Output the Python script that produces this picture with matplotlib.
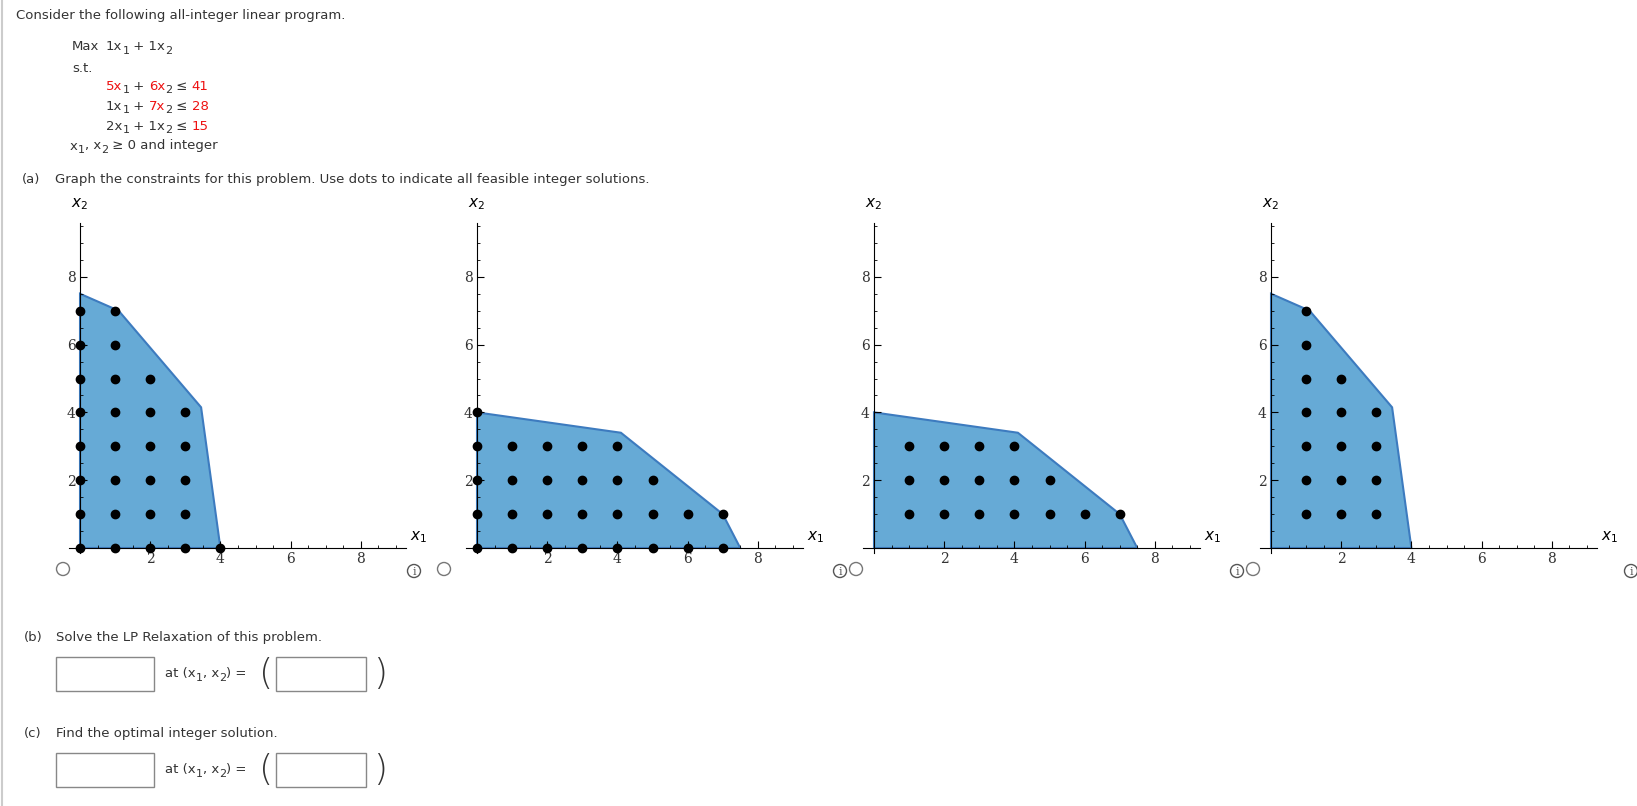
import matplotlib.pyplot as plt
from matplotlib.patches import Polygon, Rectangle, Circle
from matplotlib.ticker import MultipleLocator

W, H = 1637, 806

# feasible region shown in each answer choice
region_a = [(0, 0), (0, 7.5), (1.1, 7.0), (3.45, 4.15), (4.0, 0)]
region_b = [(0, 0), (0, 4.0), (4.1, 3.4), (7.0, 1.0), (7.5, 0)]
regions = [region_a, region_b, region_b, region_a]

# integer dots: for each x1, the x2 values drawn
dots_1 = {0: range(0, 8), 1: range(0, 8), 2: range(0, 6), 3: range(0, 5), 4: [0]}
dots_2 = {0: range(0, 5), 1: range(0, 4), 2: range(0, 4), 3: range(0, 4), 4: range(0, 4),
          5: range(0, 3), 6: [0, 1], 7: [0, 1]}
dots_3 = {1: range(1, 4), 2: range(1, 4), 3: range(1, 4), 4: range(1, 4), 5: [1, 2], 6: [1], 7: [1]}
dots_4 = {1: range(1, 8), 2: range(1, 6), 3: range(1, 5)}
dots = [dots_1, dots_2, dots_3, dots_4]

fig = plt.figure(figsize=(W / 100, H / 100), dpi=100)
page = fig.add_axes([0, 0, 1, 1])
page.set_xlim(0, W)
page.set_ylim(H, 0)
page.axis('off')
renderer = fig.canvas.get_renderer()

FS = 9.5
RED = '#ee1111'
GREY = '#333333'


def runs(x, y, parts):
    # parts: (text, colour, subscript?)
    for s, c, sub in parts:
        t = page.text(x, y + (4 if sub else 0), s, color=c, fontsize=FS - 1.5 if sub else FS,
                      va='center', ha='left', family='DejaVu Sans')
        x += t.get_window_extent(renderer).width


page.plot([2, 2], [0, H], color='#cccccc', lw=1.5)
page.text(16, 15, 'Consider the following all-integer linear program.', fontsize=FS, va='center', color=GREY)
page.text(72, 47, 'Max', fontsize=FS, va='center', color=GREY)
runs(106, 47, [('1x', GREY, 0), ('1', GREY, 1), (' + 1x', GREY, 0), ('2', GREY, 1)])
page.text(72, 68, 's.t.', fontsize=FS, va='center', color=GREY)
runs(106, 86, [('5x', RED, 0), ('1', GREY, 1), (' + ', GREY, 0), ('6x', RED, 0), ('2', GREY, 1),
               (' ≤ ', GREY, 0), ('41', RED, 0)])
runs(106, 106, [('1x', GREY, 0), ('1', GREY, 1), (' + ', GREY, 0), ('7x', RED, 0), ('2', GREY, 1),
                (' ≤ ', GREY, 0), ('28', RED, 0)])
runs(106, 126, [('2x', GREY, 0), ('1', GREY, 1), (' + 1x', GREY, 0), ('2', GREY, 1),
                (' ≤ ', GREY, 0), ('15', RED, 0)])
runs(70, 146, [('x', GREY, 0), ('1', GREY, 1), (', x', GREY, 0), ('2', GREY, 1), (' ≥ 0 and integer', GREY, 0)])
page.text(22, 180, '(a)', fontsize=FS, va='center', color=GREY)
page.text(55, 180, 'Graph the constraints for this problem. Use dots to indicate all feasible integer solutions.',
          fontsize=FS, va='center', color=GREY)

for lab, y in [('(b)', 638), ('(c)', 733)]:
    page.text(24, y, lab, fontsize=FS, va='center', color=GREY)
page.text(56, 638, 'Solve the LP Relaxation of this problem.', fontsize=FS, va='center', color=GREY)
page.text(56, 733, 'Find the optimal integer solution.', fontsize=FS, va='center', color=GREY)
for y in [657, 753]:
    page.add_patch(Rectangle((56, y), 98, 34, fill=False, ec='#888888', lw=1))
    page.add_patch(Rectangle((276, y), 90, 34, fill=False, ec='#888888', lw=1))
    runs(165, y + 17, [('at (x', GREY, 0), ('1', GREY, 1), (', x', GREY, 0), ('2', GREY, 1), (') =', GREY, 0)])
    page.text(266, y + 17, '(', fontsize=26, va='center', ha='center', color=GREY, family='DejaVu Sans',
              fontweight='ultralight')
    page.text(380, y + 17, ')', fontsize=26, va='center', ha='center', color=GREY, family='DejaVu Sans',
              fontweight='ultralight')

radio_x = [63, 444, 856, 1253]
info_x = [414, 840, 1237, 1631]
for rx, ix in zip(radio_x, info_x):
    page.add_patch(Circle((rx, 569), 6.5, fill=False, ec='#777777', lw=1))
    page.add_patch(Circle((ix, 571), 6.5, fill=False, ec='#555555', lw=1))
    page.text(ix, 572, 'i', fontsize=8, ha='center', va='center', color='#555555', family='DejaVu Serif')

PX, PY = 35.1, 33.9
for i in range(4):
    x0 = 80 + 397 * i
    y0 = 548
    xl, xr, yb, yt = -0.3, 9.3, -0.15, 9.6
    left = x0 + xl * PX
    bottom = H - (y0 - yb * PY)
    ax = fig.add_axes([left / W, bottom / H, (xr - xl) * PX / W, (yt - yb) * PY / H])
    ax.set_xlim(xl, xr)
    ax.set_ylim(yb, yt)
    ax.patch.set_alpha(0)
    ax.add_patch(Polygon(regions[i], closed=True, fc='#66aad6', ec='#3d7bbf', lw=1.5, zorder=1))
    xs, ys = [], []
    for xv, col in dots[i].items():
        for yv in col:
            xs.append(xv)
            ys.append(yv)
    ax.plot(xs, ys, 'o', color='black', ms=6, zorder=5, clip_on=False)
    for s in ['top', 'right']:
        ax.spines[s].set_visible(False)
    ax.spines['left'].set_position(('data', 0))
    ax.spines['bottom'].set_position(('data', 0))
    ax.xaxis.set_major_locator(MultipleLocator(2))
    ax.yaxis.set_major_locator(MultipleLocator(2))
    ax.xaxis.set_minor_locator(MultipleLocator(0.5))
    ax.yaxis.set_minor_locator(MultipleLocator(0.5))
    ax.set_xticks([2, 4, 6, 8])
    ax.set_yticks([2, 4, 6, 8])
    ax.tick_params(direction='in', length=5, width=0.8, labelsize=10, pad=3)
    ax.tick_params(which='minor', direction='in', length=2.5, width=0.6)
    for lab in ax.get_xticklabels() + ax.get_yticklabels():
        lab.set_family('DejaVu Serif')
        lab.set_color('#333333')
    ax.text(xr + 0.1, 0.1, '$x_1$', fontsize=11, va='bottom', ha='left', clip_on=False)
    ax.text(0, yt + 0.3, '$x_2$', fontsize=11, va='bottom', ha='center', clip_on=False)

fig.savefig('out.png', dpi=100)
